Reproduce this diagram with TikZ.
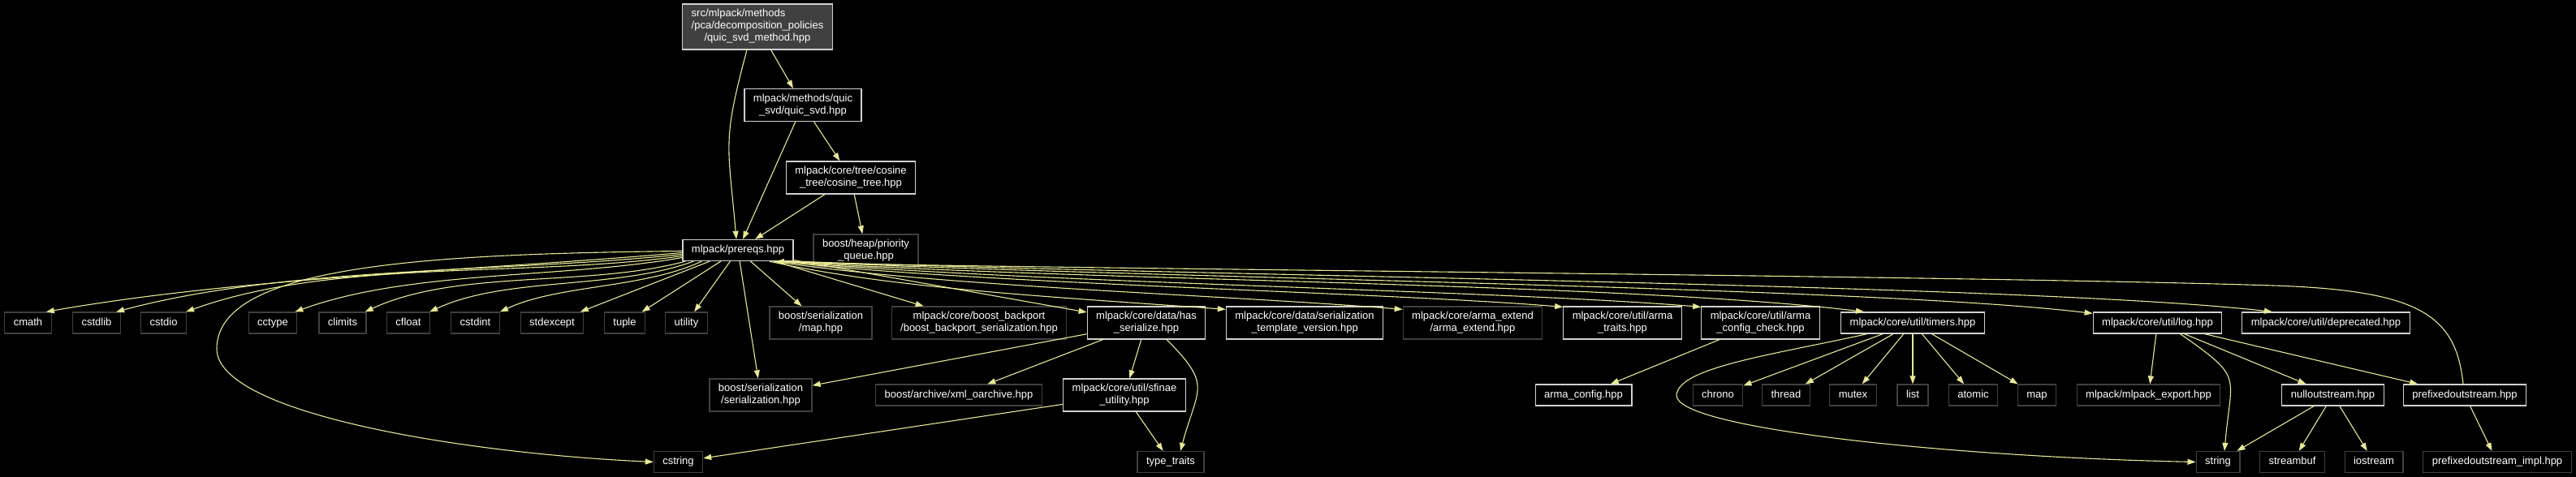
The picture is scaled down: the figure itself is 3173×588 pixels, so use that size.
\documentclass[tikz,border=0pt]{standalone}
\usepackage{fontspec}
\setmainfont{Liberation Sans}
\usetikzlibrary{arrows.meta}

\definecolor{edgecol}{RGB}{232,232,150}
\definecolor{boxgray}{RGB}{64,64,64}

\begin{document}
\begin{tikzpicture}[x=1pt,y=1pt]
  \tikzstyle{incfile}=[rectangle, line width=1.2pt, fill=black, text=white, inner xsep=11pt, inner ysep=0pt, align=center, font=\fontsize{13}{15}\selectfont]
  \tikzstyle{docfile}=[incfile, draw=white!82!black]
  \tikzstyle{sysfile}=[incfile, draw=boxgray]
  \tikzstyle{oneline}=[minimum height=26pt, text height=9.5pt, text depth=2.8pt]
  \tikzstyle{twoline}=[minimum height=40pt]
  \tikzstyle{connect}=[draw=edgecol, line width=1.1pt, -{Triangle[length=10pt,width=7pt]}]
  \tikzstyle{fan}=[connect, looseness=0.8]

  \fill[black] (0,0) rectangle (3173,588);
  \useasboundingbox (0,0) rectangle (3173,588);

  % top of the graph
  \node[docfile, fill=boxgray, minimum height=56pt] (src) at (933,555) {\begin{tabular}{@{}l@{}}src/mlpack/methods\\/pca/decomposition\_policies\\\multicolumn{1}{@{}c@{}}{/quic\_svd\_method.hpp}\end{tabular}};
  \node[docfile, twoline] (quicsvd) at (989,458.5) {mlpack/methods/quic\\\_svd/quic\_svd.hpp};
  \node[docfile, twoline] (cosinetree) at (1048,369) {mlpack/core/tree/cosine\\\_tree/cosine\_tree.hpp};
  \node[docfile, oneline] (prereqs) at (909,279.5) {mlpack/prereqs.hpp};
  \node[sysfile, twoline] (heappq) at (1066.5,279) {boost/heap/priority\\\_queue.hpp};

  % second row
  \node[sysfile, oneline] (cmath) at (34.5,190) {cmath};
  \node[sysfile, oneline] (cstdlib) at (119,190) {cstdlib};
  \node[sysfile, oneline] (cstdio) at (201.5,190) {cstdio};
  \node[sysfile, oneline] (cctype) at (336,190) {cctype};
  \node[sysfile, oneline] (climits) at (422,190) {climits};
  \node[sysfile, oneline] (cfloat) at (503,190) {cfloat};
  \node[sysfile, oneline] (cstdint) at (585.5,190) {cstdint};
  \node[sysfile, oneline] (stdexcept) at (680,190) {stdexcept};
  \node[sysfile, oneline] (tuple) at (769.5,190) {tuple};
  \node[sysfile, oneline] (utility) at (845.5,190) {utility};
  \node[sysfile, twoline] (sermap) at (1011,190) {boost/serialization\\/map.hpp};
  \node[sysfile, twoline] (backport) at (1206,190) {mlpack/core/boost\_backport\\/boost\_backport\_serialization.hpp};
  \node[docfile, twoline] (hasser) at (1412,190) {mlpack/core/data/has\\\_serialize.hpp};
  \node[docfile, twoline] (sertv) at (1607,190) {mlpack/core/data/serialization\\\_template\_version.hpp};
  \node[sysfile, twoline] (armaext) at (1814,190) {mlpack/core/arma\_extend\\/arma\_extend.hpp};
  \node[docfile, twoline] (armatraits) at (1998.5,190) {mlpack/core/util/arma\\\_traits.hpp};
  \node[docfile, twoline] (armacheck) at (2168.5,190) {mlpack/core/util/arma\\\_config\_check.hpp};
  \node[docfile, oneline] (timers) at (2356,190) {mlpack/core/util/timers.hpp};
  \node[docfile, oneline] (log) at (2657.5,190) {mlpack/core/util/log.hpp};
  \node[docfile, oneline] (deprecated) at (2865,190) {mlpack/core/util/deprecated.hpp};

  % third row
  \node[sysfile, twoline] (serhpp) at (937,101) {boost/serialization\\/serialization.hpp};
  \node[sysfile, oneline] (xmlarch) at (1181,101) {boost/archive/xml\_oarchive.hpp};
  \node[docfile, twoline] (sfinae) at (1385,101) {mlpack/core/util/sfinae\\\_utility.hpp};
  \node[docfile, oneline] (armaconfig) at (1950.5,101) {arma\_config.hpp};
  \node[sysfile, oneline] (chrono) at (2116,101) {chrono};
  \node[sysfile, oneline] (thread) at (2200,101) {thread};
  \node[sysfile, oneline] (mutex) at (2282.5,101) {mutex};
  \node[sysfile, oneline] (list) at (2356,101) {list};
  \node[sysfile, oneline] (atomic) at (2430.5,101) {atomic};
  \node[sysfile, oneline] (stdmap) at (2509,101) {map};
  \node[sysfile, oneline] (mlexport) at (2646.5,101) {mlpack/mlpack\_export.hpp};
  \node[docfile, oneline] (nullout) at (2873.5,101) {nulloutstream.hpp};
  \node[docfile, oneline] (prefixout) at (3036,101) {prefixedoutstream.hpp};

  % bottom row
  \node[sysfile, oneline] (cstring) at (835.5,18.5) {cstring};
  \node[sysfile, oneline] (typetraits) at (1442,18.5) {type\_traits};
  \node[sysfile, oneline] (string) at (2732,18.5) {string};
  \node[sysfile, oneline] (streambuf) at (2823.5,18.5) {streambuf};
  \node[sysfile, oneline] (iostream) at (2924,18.5) {iostream};
  \node[sysfile, oneline] (prefiximpl) at (3076,18.5) {prefixedoutstream\_impl.hpp};

  % upper edges
  \path (src) edge[connect] (quicsvd);
  \draw[connect, looseness=1.3] ([xshift=-13pt]src.south) to[out=-105,in=95] ([xshift=-2pt]prereqs.north);
  \path (quicsvd) edge[connect] (prereqs);
  \path (quicsvd) edge[connect] (cosinetree);
  \path (cosinetree) edge[connect] (prereqs);
  \path (cosinetree) edge[connect] (heappq);

  % prereqs to the left
  \draw[fan] ([yshift=-3pt]prereqs.west) to[out=185,in=10] ([xshift=-7pt]cmath.north east);
  \draw[fan] ([yshift=-5pt]prereqs.west) to[out=186,in=15] ([xshift=-6pt]cstdlib.north east);
  \draw[fan] ([yshift=-7pt]prereqs.west) to[out=188,in=20] ([xshift=-1pt]cstdio.north east);
  \draw[fan] ([yshift=-9pt]prereqs.west) to[out=190,in=20] ([xshift=-3pt]cctype.north east);
  \draw[fan] ([xshift=4pt]prereqs.south west) to[out=195,in=25] ([xshift=-2pt]climits.north east);
  \draw[fan] ([xshift=14pt]prereqs.south west) to[out=200,in=25] ([xshift=-1pt]cfloat.north east);
  \draw[fan] ([xshift=24pt]prereqs.south west) to[out=205,in=25] (cstdint.north east);
  \path (prereqs) edge[connect] (stdexcept);
  \path (prereqs) edge[connect] (tuple);
  \path (prereqs) edge[connect] (utility);
  \path (prereqs) edge[connect] (serhpp);
  \draw[connect] ([yshift=-1pt]prereqs.west) .. controls (520,275) and (267,260) .. (267,158) .. controls (267,80) and (560,30) .. (cstring.west);

  % prereqs to the right
  \path (prereqs) edge[connect] (sermap);
  \path (prereqs) edge[connect] (backport);
  \path (prereqs) edge[connect] (hasser);
  \draw[connect] ([xshift=-30pt]prereqs.south east) .. controls (1100,232) and (1300,222) .. ([yshift=-4pt]sertv.north west);
  \draw[connect] ([xshift=-25pt]prereqs.south east) .. controls (1150,235) and (1500,225) .. ([yshift=-4pt]armaext.north west);
  \draw[connect] ([xshift=-20pt]prereqs.south east) .. controls (1200,238) and (1700,228) .. ([yshift=-1pt]armatraits.north west);
  \draw[connect] ([xshift=-15pt]prereqs.south east) .. controls (1250,240) and (1850,230) .. ([yshift=-1pt]armacheck.north west);
  \draw[connect] ([xshift=-10pt]prereqs.south east) .. controls (1300,242) and (2000,240) .. ([xshift=-60pt]timers.north);
  \draw[connect] ([xshift=-5pt]prereqs.south east) .. controls (1400,245) and (2300,235) .. ([yshift=-2pt]log.north west);
  \draw[connect] (prereqs.south east) .. controls (1450,248) and (2500,238) .. ([xshift=-66pt]deprecated.north);

  % has_serialize and sfinae
  \path (hasser) edge[connect] (serhpp);
  \path (hasser) edge[connect] (xmlarch);
  \path (hasser) edge[connect] (sfinae);
  \draw[connect, looseness=1.5] ([xshift=25pt]hasser.south) to[out=-45,in=75] ([xshift=12pt]typetraits.north);
  \path (sfinae) edge[connect] (cstring);
  \path (sfinae) edge[connect] (typetraits);
  \path (armacheck) edge[connect] (armaconfig);

  % timers
  \path (timers) edge[connect] (chrono);
  \path (timers) edge[connect] (thread);
  \path (timers) edge[connect] (mutex);
  \path (timers) edge[connect] (list);
  \path (timers) edge[connect] (atomic);
  \path (timers) edge[connect] (stdmap);
  \draw[connect] ([xshift=-56pt]timers.south) .. controls (2180,150) and (2068,135) .. (2065,101) .. controls (2063,60) and (2400,25) .. (string.west);

  % log and streams
  \path (log) edge[connect] (mlexport);
  \draw[connect, looseness=1.6] ([xshift=28pt]log.south) to[out=-35,in=85] ([xshift=8pt]string.north);
  \path (log) edge[connect] (nullout);
  \path (log) edge[connect] (prefixout);
  \path (nullout) edge[connect] (string);
  \path (nullout) edge[connect] (streambuf);
  \path (nullout) edge[connect] (iostream);
  \path (prefixout) edge[connect] (prefiximpl);
  \draw[connect] ([xshift=-2pt]prefixout.north) .. controls (3025,200) and (2980,230) .. (2800,236) .. controls (2400,249) and (1100,258) .. ([xshift=-22pt]prereqs.south east);
\end{tikzpicture}
\end{document}
